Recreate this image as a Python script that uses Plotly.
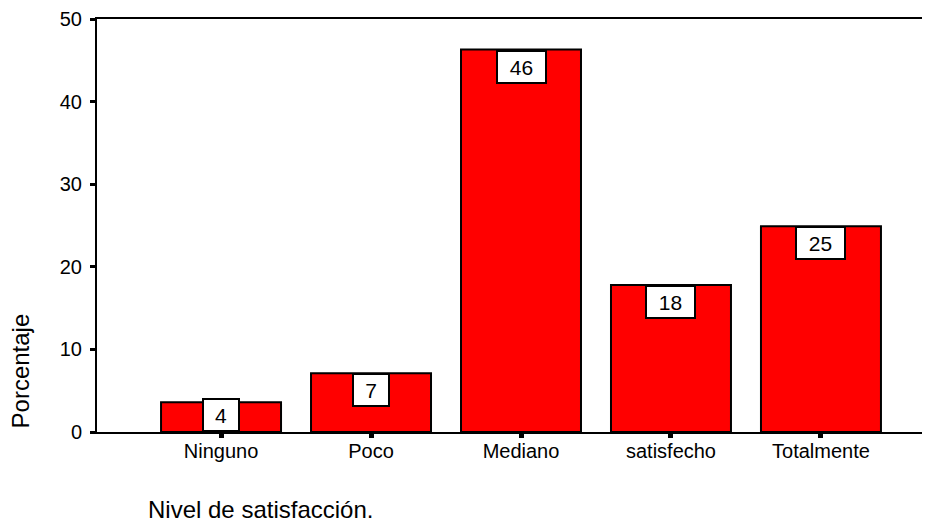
import plotly.graph_objects as go

categories = ["Ninguno", "Poco", "Mediano", "satisfecho", "Totalmente"]
percentages = [3.6, 7.1, 46.3, 17.8, 24.9]
labels = ["4", "7", "46", "18", "25"]
y_ticks = [0, 10, 20, 30, 40, 50]

FONT = "Liberation Sans, Arial, sans-serif"

# page body has a default 8px margin, so the figure is sized to fit the window
PAGE_OFF = 8
PLOT_L, PLOT_T, PLOT_B = 97, 16, 432  # window pixels of the plot frame
W, H = 930 - PAGE_OFF, 524 - PAGE_OFF
PW, PH = 930 - PLOT_L, PLOT_B - PLOT_T

fig = go.Figure()
fig.add_trace(go.Bar(
    x=categories, y=percentages, width=0.8,
    marker=dict(color="#FF0000", line=dict(color="black", width=2)),
    hoverinfo="skip",
))

box_h_units = 4.1
for c, v, t in zip(categories, percentages, labels):
    fig.add_annotation(
        x=c, y=max(v, box_h_units), xref="x", yref="y",
        text=t, showarrow=False, yanchor="top",
        font=dict(family=FONT, size=21, color="black"),
        bgcolor="white", bordercolor="black", borderwidth=2, borderpad=0,
        width=47 if len(t) > 1 else 34, height=30,
    )

fig.add_annotation(
    x=(20 - PLOT_L) / PW, y=(PLOT_B - 371) / PH, xref="paper", yref="paper",
    text="Porcentaje", showarrow=False, textangle=-90,
    xanchor="center", yanchor="middle",
    font=dict(family=FONT, size=24, color="black"),
)
fig.add_annotation(
    x=(146 - PLOT_L) / PW, y=(PLOT_B - 510) / PH, xref="paper", yref="paper",
    text="Nivel de satisfacción.", showarrow=False,
    xanchor="left", yanchor="middle", font=dict(family=FONT, size=24, color="black"),
)

fig.update_layout(
    width=W, height=H,
    margin=dict(l=PLOT_L - PAGE_OFF, r=0, t=PLOT_T - PAGE_OFF, b=H - (PLOT_B - PAGE_OFF)),
    plot_bgcolor="white", paper_bgcolor="white",
    showlegend=False,
    xaxis=dict(
        range=[-0.827, 4.727], showline=True, linecolor="black", linewidth=2,
        mirror=True, ticks="outside", ticklen=4, tickwidth=5, tickcolor="black",
        tickfont=dict(family=FONT, size=20, color="black"), showgrid=False,
        zeroline=False, fixedrange=True, ticklabelstandoff=-4,
    ),
    yaxis=dict(
        range=[0, 50], tickvals=y_ticks, showline=True, linecolor="black", linewidth=2,
        ticks="outside", ticklen=5, tickwidth=3, tickcolor="black",
        tickfont=dict(family=FONT, size=20, color="black"), showgrid=False,
        zeroline=False, ticklabelstandoff=4, ticklabeloverflow="allow",
    ),
)

fig.write_html("out.html")
